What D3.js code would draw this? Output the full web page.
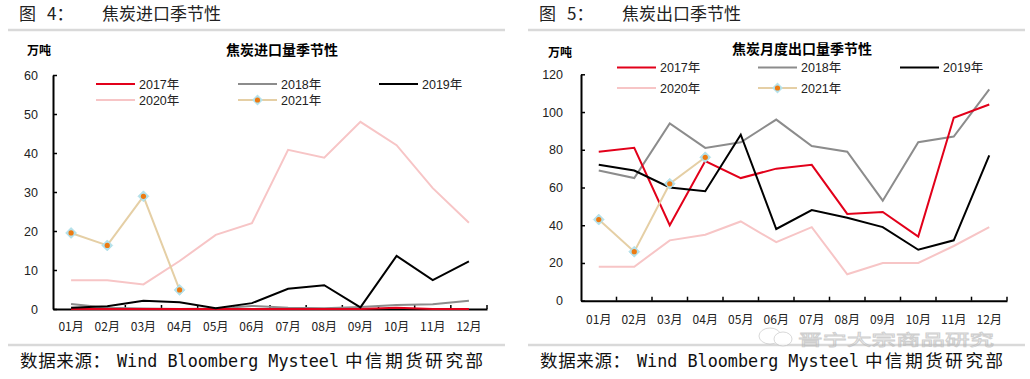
<!DOCTYPE html>
<html><head><meta charset="utf-8">
<script src="https://cdn.jsdelivr.net/npm/d3@7/dist/d3.min.js"></script>
<style>
body{margin:0;background:#fff;}
svg{display:block;}
text{font-family:"Liberation Sans",Arial,sans-serif;}
.cjk{font-family:"Noto Sans CJK SC","Liberation Sans",sans-serif;}
.lat{font-family:"Liberation Sans","Noto Sans CJK SC",sans-serif;}
.mono{font-family:"DejaVu Sans Mono","Liberation Mono",monospace;}
</style></head>
<body><svg id="c" width="1030" height="379"></svg>
<script>
const months = ["01月","02月","03月","04月","05月","06月","07月","08月","09月","10月","11月","12月"];
const seriesNames = ["2017年","2018年","2019年","2020年","2021年"];
// Import (万吨)
const imp2017 = [0,0,0,0,0,0,0,0,0,0.3,0,0];
const imp2018 = [1.3,0.3,0.1,0,0.1,0.8,0.3,0.2,0.5,1.0,1.2,2.1];
const imp2019 = [0.3,0.7,2.1,1.7,0.2,1.5,5.2,6.1,0.4,13.6,7.4,12.2];
const imp2020 = [7.4,7.4,6.3,12.3,19.0,22.0,40.8,38.8,48.0,42.0,31.0,22.1];
const imp2021 = [19.5,16.3,28.9,4.9];
// Export (万吨)
const exp2017 = [79,81,40,74,65,70,72,46,47,34,97,104];
const exp2018 = [69,65,94,81,84,96,82,79,53,84,87,112];
const exp2019 = [72,69,60,58,88,38,48,44,39,27,32,77];
const exp2020 = [18,18,32,35,42,31,39,14,20,20,29,39];
const exp2021 = [43,26,62,76];
const impTicks = [0,10,20,30,40,50,60];
const expTicks = [0,20,40,60,80,100,120];

const colors = ["#e2001a","#8c8c8c","#000000","#f7c5c6","#e5cfa5"];
const svg = d3.select("#c");

function header(x0, x1, num, title){
  svg.append("text").attr("class","cjk").attr("x",x0+11).attr("y",20)
    .attr("font-size",17).attr("fill","#222").text("图");
  svg.append("text").attr("class","cjk").attr("x",x0+39).attr("y",20)
    .attr("font-size",17).attr("fill","#222").text(num+"：");
  svg.append("text").attr("class","cjk").attr("x",x0+94).attr("y",20)
    .attr("font-size",17).attr("fill","#222").text(title);
  svg.append("line").attr("x1",x0).attr("x2",x1).attr("y1",30).attr("y2",30)
    .attr("stroke","#d9d9d9").attr("stroke-width",2.5);
  svg.append("line").attr("x1",x0).attr("x2",x1).attr("y1",345).attr("y2",345)
    .attr("stroke","#d9d9d9").attr("stroke-width",2.5);
  const ft = svg.append("text").attr("x",x0+12).attr("y",367).attr("fill","#111");
  ft.append("tspan").attr("class","cjk").attr("font-size",17.5).attr("textLength",90).attr("lengthAdjust","spacing").text("数据来源：");
  ft.append("tspan").attr("class","mono").attr("x",x0+109).attr("font-size",17).attr("textLength",222).attr("lengthAdjust","spacingAndGlyphs").text("Wind Bloomberg Mysteel");
  ft.append("tspan").attr("class","cjk").attr("x",x0+337).attr("font-size",17.5).attr("textLength",138).attr("lengthAdjust","spacing").text("中信期货研究部");
}

function chart(cfg){
  const g = svg.append("g");
  const x = d3.scaleBand().domain(months).range([cfg.x0,cfg.x1]).paddingInner(0).paddingOuter(0);
  const y = d3.scaleLinear().domain([0,cfg.ymax]).range([cfg.yb,cfg.yt]);
  const cx = d => x(d)+x.bandwidth()/2;

  g.append("text").attr("class","cjk").attr("x",cfg.titleX).attr("y",cfg.titleY)
    .attr("text-anchor","middle").attr("font-size",14).attr("font-weight","bold")
    .attr("fill","#000").text(cfg.title);
  g.append("text").attr("class","cjk").attr("x",cfg.unitX).attr("y",cfg.unitY)
    .attr("font-size",12).attr("font-weight","bold").attr("fill","#000").text("万吨");

  const ya = g.append("g").attr("transform",`translate(${cfg.x0},0)`)
    .call(d3.axisLeft(y).tickValues(cfg.ticks).tickSizeInner(-4).tickSizeOuter(0).tickPadding(cfg.ypad));
  ya.select(".domain").attr("stroke","#000").attr("stroke-width",2);
  ya.selectAll(".tick line").attr("stroke","#000").attr("stroke-width",1.5);
  ya.selectAll("text").attr("font-size",12.5).attr("fill","#222");

  const xa = g.append("g").attr("transform",`translate(0,${cfg.yb})`)
    .call(d3.axisBottom(x).tickSize(0).tickPadding(cfg.xpad));
  xa.select(".domain").attr("stroke","#000").attr("stroke-width",2);
  xa.selectAll("text").attr("class","cjk").attr("font-size",12).attr("fill","#222");
  const bounds = months.slice(1).map(m=>x(m)).concat([cfg.x1]);
  g.selectAll(".xt").data(bounds).enter().append("line")
    .attr("x1",d=>d).attr("x2",d=>d).attr("y1",cfg.yb).attr("y2",cfg.yb-4)
    .attr("stroke","#000").attr("stroke-width",1.5);

  const line = d3.line().x((d,i)=>cx(months[i])).y(d=>y(d));
  const order = [3,1,0,2,4];
  order.forEach(k=>{
    g.append("path").datum(cfg.data[k]).attr("d",line).attr("fill","none")
      .attr("stroke",colors[k]).attr("stroke-width",2).attr("stroke-linejoin","miter");
  });
  const mk = g.selectAll(".mk").data(cfg.data[4]).enter().append("g")
    .attr("transform",(d,i)=>`translate(${cx(months[i])},${y(d)})`);
  mk.append("path").attr("d","M0,-5.5L5.5,0L0,5.5L-5.5,0Z").attr("fill","#b5e1ea").attr("stroke","#9fd6e3").attr("stroke-width",0.5);
  mk.append("circle").attr("r",2.6).attr("fill","#ec7a12");

  cfg.legend.forEach((p,k)=>{
    const lg = g.append("g").attr("transform",`translate(${p[0]},${p[1]})`);
    lg.append("line").attr("x1",0).attr("x2",39).attr("stroke",colors[k]).attr("stroke-width",2);
    if(k===4){
      lg.append("path").attr("d","M19.5,-5.5L25,0L19.5,5.5L14,0Z").attr("fill","#b5e1ea");
      lg.append("circle").attr("cx",19.5).attr("r",2.6).attr("fill","#ec7a12");
    }
    lg.append("text").attr("class","lat").attr("x",43).attr("y",4.5).attr("font-size",12.5).attr("fill","#222").text(seriesNames[k]);
  });
}

header(8, 505, 4, "焦炭进口季节性");
header(528, 1025, 5, "焦炭出口季节性");

chart({x0:53,x1:487,yb:309,yt:75,ymax:60,ticks:impTicks,ypad:15,xpad:13,
  title:"焦炭进口量季节性",titleX:282,titleY:55,unitX:27,unitY:55,
  data:[imp2017,imp2018,imp2019,imp2020,imp2021],
  legend:[[96,84],[238,84],[379,84],[96,100],[238,100]]});

chart({x0:581,x1:1007,yb:300.7,yt:74.3,ymax:120,ticks:expTicks,ypad:18,xpad:15,
  title:"焦炭月度出口量季节性",titleX:802,titleY:54,unitX:548,unitY:57,
  data:[exp2017,exp2018,exp2019,exp2020,exp2021],
  legend:[[617,67.5],[758,67.5],[900,67.5],[617,88],[758,88]]});

// watermark (faint, sits just below the month labels)
const wm = svg.append("g").attr("opacity",0.7);
wm.append("ellipse").attr("cx",770).attr("cy",336).attr("rx",11).attr("ry",8)
  .attr("fill","#fff").attr("stroke","#bbb").attr("stroke-width",0.8);
wm.append("ellipse").attr("cx",783).attr("cy",339).attr("rx",9).attr("ry",7)
  .attr("fill","#fff").attr("stroke","#bbb").attr("stroke-width",0.8);
wm.append("text").attr("class","lat").attr("x",798).attr("y",345).attr("font-size",15)
  .attr("textLength",196).attr("lengthAdjust","spacingAndGlyphs")
  .attr("fill","none").attr("stroke","#bbb").attr("stroke-width",0.8)
  .text("晋宁大宗商品研究");
</script></body></html>
